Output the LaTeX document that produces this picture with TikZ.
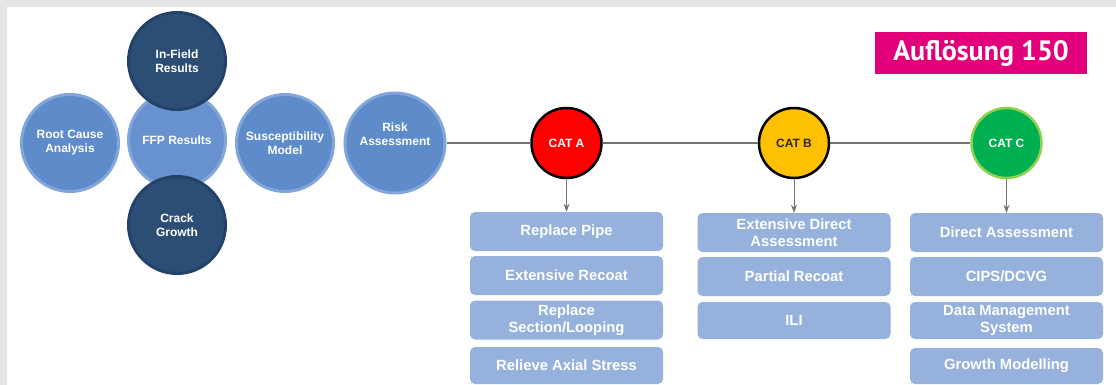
\documentclass[tikz,border=0pt]{standalone}
\usepackage{fontspec}
\setmainfont{Liberation Sans}
\newfontfamily\tagfont{PT Sans}
\usetikzlibrary{arrows.meta}
\definecolor{framegray}{HTML}{E6E6E6}
\definecolor{circblue}{HTML}{5E8BC9}
\definecolor{circedge}{HTML}{82A6DA}
\definecolor{ffpblue}{HTML}{6792CF}
\definecolor{darkblue}{HTML}{2D4E74}
\definecolor{darkedge}{HTML}{22426A}
\definecolor{boxblue}{HTML}{95B1DC}
\definecolor{catred}{HTML}{FF0000}
\definecolor{catyellow}{HTML}{FFC000}
\definecolor{catgreen}{HTML}{00B050}
\definecolor{catgreenedge}{HTML}{8FD14F}
\definecolor{linegray}{HTML}{737373}
\definecolor{tagpink}{HTML}{E2007A}
\definecolor{darktext}{HTML}{2B2B2B}
\begin{document}
\begin{tikzpicture}[x=1pt,y=-1pt,
  lightcirc/.style={circle, fill=circblue, draw=circedge, line width=3pt,
    minimum size=97pt, inner sep=0pt, text=white, align=center,
    font=\bfseries\fontsize{12}{14}\selectfont},
  darkcirc/.style={lightcirc, fill=darkblue, draw=darkedge},
  catcirc/.style={circle, draw=black, line width=2.5pt, minimum size=70pt,
    inner sep=0pt, font=\bfseries\fontsize{12}{14}\selectfont},
  actbox/.style={rectangle, rounded corners=5pt, fill=boxblue,
    minimum width=193pt, minimum height=39pt, inner sep=0pt, text=white,
    align=center, font=\bfseries\fontsize{14.8}{17}\selectfont},
  hline/.style={draw=linegray, line width=2pt},
  arr/.style={draw=linegray, line width=1pt, -{Stealth[length=8pt,width=6pt]}}
]
\fill[framegray] (0,0) rectangle (1116,385);
\fill[white] (7,7) rectangle (1116,385);
\useasboundingbox (0,0) rectangle (1116,385);

% left circles
\node[lightcirc] (root) at (70,143) {Root Cause\\Analysis};
\node[lightcirc, fill=ffpblue] (ffp) at (177,140) {FFP Results};
\node[darkcirc] (infield) at (177,61) {In-Field\\Results};
\node[darkcirc] (crack) at (177,225) {Crack\\Growth};
\node[lightcirc] (susc) at (285,143) {Susceptibility\\Model};
\node[lightcirc, minimum size=100pt] (risk) at (395,143) {Risk\\Assessment\\[4pt]};

% categories
\node[catcirc, fill=catred, text=white] (cata) at (566.5,143) {CAT A};
\node[catcirc, fill=catyellow, text=darktext] (catb) at (794,143) {CAT B};
\node[catcirc, fill=catgreen, draw=catgreenedge, text=white] (catc) at (1006.5,143) {CAT C};

\draw[hline] (risk) -- (cata);
\draw[hline] (cata) -- (catb);
\draw[hline] (catb) -- (catc);

% column A
\node[actbox] (a1) at (566.5,231.5) {Replace Pipe};
\node[actbox] (a2) at (566.5,275.5) {Extensive Recoat};
\node[actbox] (a3) at (566.5,320) {Replace\\Section/Looping};
\node[actbox, minimum height=37pt] (a4) at (566.5,365.5) {Relieve Axial Stress};
% column B
\node[actbox] (b1) at (794,232.5) {Extensive Direct\\Assessment};
\node[actbox] (b2) at (794,276.5) {Partial Recoat};
\node[actbox, minimum height=37pt] (b3) at (794,320.5) {ILI};
% column C
\node[actbox] (c1) at (1006.5,232.5) {Direct Assessment};
\node[actbox] (c2) at (1006.5,276.5) {CIPS/DCVG};
\node[actbox, minimum height=37pt] (c3) at (1006.5,320.5) {Data Management\\System};
\node[actbox, minimum height=36pt] (c4) at (1006.5,366) {Growth Modelling};

\draw[arr] (cata) -- (a1);
\draw[arr] (catb) -- (b1);
\draw[arr] (catc) -- (c1);

% tag
\node[fill=tagpink, minimum width=212pt, minimum height=42pt, inner sep=0pt,
  text=white, font=\tagfont\bfseries\fontsize{28}{30}\selectfont] (tag) at (981,53) {Auflösung 150};
\end{tikzpicture}
\end{document}
